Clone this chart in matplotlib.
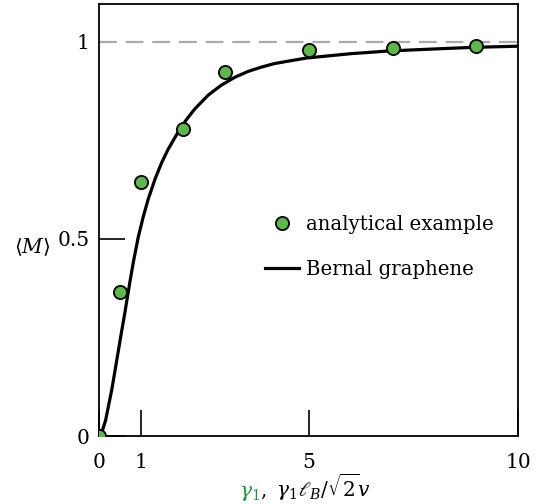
import numpy as np
import matplotlib
matplotlib.use("Agg")
from matplotlib import pyplot as plt

plt.rcParams['font.family'] = ['DejaVu Serif']
plt.rcParams['mathtext.fontset'] = 'dejavuserif'

# analytical example (dots)
gam_pts = [0, 0.5, 1, 2, 3, 5, 7, 9]
M_pts = [0.0, 0.365, 0.645, 0.78, 0.924, 0.979, 0.985, 0.99]

# Bernal graphene (curve)
gam_curve = [0, 0.06, 0.15, 0.3, 0.53, 0.61, 0.73, 0.81, 0.93, 1.05, 1.17, 1.33,
             1.49, 1.64, 1.88, 2.08, 2.28, 2.6, 2.91, 3.23, 3.55, 3.87, 4.18,
             4.94, 6.0, 6.92, 8.0, 8.9, 10.0]
M_curve = [0, 0.009, 0.04, 0.119, 0.264, 0.313, 0.391, 0.44, 0.505, 0.557, 0.602, 0.652,
           0.694, 0.727, 0.771, 0.803, 0.83, 0.865, 0.89, 0.91, 0.925, 0.936, 0.945,
           0.959, 0.970, 0.977, 0.982, 0.986, 0.989]

fig = plt.figure(figsize=(5.46, 5.04), dpi=100)
ax = fig.add_axes([0.1819, 0.1349, 0.9493 - 0.1819, 0.992 - 0.1349])

ax.axhline(1, color='#aaaaaa', lw=1.6, dashes=(8, 4), zorder=1)
ax.plot(gam_curve, M_curve, color='black', lw=2.3, label='Bernal graphene', zorder=2)
ax.plot(gam_pts, M_pts, 'o', ms=9.5, mfc='#5cb848', mec='black', mew=1.3,
        label='analytical example', zorder=3)

ax.set_xlim(0, 10)
ax.set_ylim(0, 1.096)
ax.set_xticks([0, 1, 5, 10])
ax.set_yticks([0, 0.5, 1])
ax.set_yticklabels(['0', '0.5', '1'])
ax.tick_params(direction='in', length=19, width=1.2, labelsize=14.5)
ax.tick_params(axis='x', pad=12)
ax.tick_params(axis='y', pad=7)
ax.yaxis.get_major_ticks()[2].tick1line.set_visible(False)
for s in ax.spines.values():
    s.set_linewidth(1.3)

fig.text(32 / 546, 1 - 247 / 504, r'$\langle M\rangle$', fontsize=14.5, ha='center', va='center')
fig.text(260 / 546, 1 - 497 / 504, r'$\gamma_1$', color='#1a9641', fontsize=14.5,
         ha='right', va='baseline')
fig.text(260 / 546, 1 - 497 / 504, r'$,\ \gamma_1\ell_B/\sqrt{2}v$', fontsize=14.5,
         ha='left', va='baseline')

h, l = ax.get_legend_handles_labels()
ax.legend(h[::-1], l[::-1], frameon=False, fontsize=14.2, loc='center left',
          bbox_to_anchor=(0.354, 0.438), handlelength=1.7, handletextpad=0.35,
          labelspacing=1.3)

fig.savefig('out.png', dpi=100)
